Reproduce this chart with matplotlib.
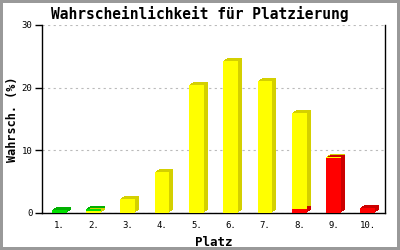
import matplotlib
matplotlib.use('Agg')
import matplotlib.pyplot as plt
import matplotlib.transforms as mtransforms
import numpy as np

places = ['1.', '2.', '3.', '4.', '5.', '6.', '7.', '8.', '9.', '10.']
red = [0, 0, 0, 0, 0, 0, 0, 0.6, 8.8, 0.8]
yellow = [0, 0.3, 2.2, 6.5, 20.4, 24.2, 21.0, 15.4, 0.2, 0]
green = [0.4, 0.4, 0, 0, 0, 0, 0, 0, 0, 0]

series = [
    (red, '#ff0000', '#cc0000'),
    (yellow, '#ffff00', '#d4d000'),
    (green, '#00e000', '#00b000'),
]

fig = plt.figure(figsize=(4, 2.5), dpi=100)
fig.patch.set_facecolor('white')
fig.patch.set_edgecolor('#999999')
fig.patch.set_linewidth(3)
ax = fig.add_axes([0.105, 0.148, 0.8575, 0.752])

x = np.arange(1, len(places) + 1)
width = 0.43

# depth effect: darker copies stepped right/up behind the front face
for dx, dy in [(1, 1), (2, 2), (3, 2), (4, 3)]:
    shadow = mtransforms.offset_copy(ax.transData, fig, x=dx, y=dy, units='dots')
    bottom = np.zeros(len(places))
    for vals, col, dark in series:
        vals = np.array(vals)
        mask = vals > 0
        ax.bar(x[mask], vals[mask], width, bottom=bottom[mask], color=dark,
               transform=shadow, zorder=2, linewidth=0)
        bottom = bottom + vals

bottom = np.zeros(len(places))
for vals, col, dark in series:
    vals = np.array(vals)
    mask = vals > 0
    ax.bar(x[mask], vals[mask], width, bottom=bottom[mask], color=col,
           zorder=3, linewidth=0)
    bottom = bottom + vals

ax.set_xlim(0.5, 10.5)
ax.set_ylim(0, 30)
ax.set_yticks([0, 10, 20, 30])
ax.yaxis.grid(True, linestyle=(0, (2, 3)), color='#bbbbbb', linewidth=0.8, zorder=0)
ax.set_axisbelow(True)
ax.set_xticks(x)
ax.set_xticklabels(places)

mono = 'DejaVu Sans Mono'
ax.tick_params(axis='x', length=0, pad=6, labelsize=6.5)
ax.tick_params(axis='y', length=5, width=1, direction='out', labelsize=6.5, pad=2)
for lbl in ax.get_xticklabels() + ax.get_yticklabels():
    lbl.set_family(mono)

ax.spines['top'].set_visible(False)
for s in ['left', 'bottom', 'right']:
    ax.spines[s].set_color('black')
    ax.spines[s].set_linewidth(1)

ax.set_xlabel('Platz', family=mono, fontweight='bold', fontsize=9, labelpad=4)
ax.set_ylabel('Wahrsch. (%)', family=mono, fontweight='bold', fontsize=8.5)
ax.yaxis.set_label_coords(-0.068, 0.5)
fig.text(0.5, 0.945, 'Wahrscheinlichkeit für Platzierung', family=mono,
         fontweight='bold', fontsize=10.5, ha='center', va='center')

fig.savefig('out.png', dpi=100, facecolor=fig.get_facecolor(), edgecolor=fig.get_edgecolor())
